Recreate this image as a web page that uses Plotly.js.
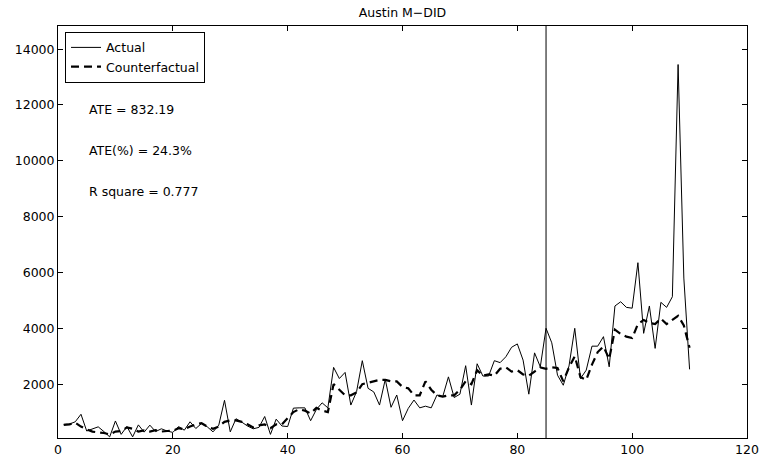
<!DOCTYPE html>
<html>
<head>
<meta charset="utf-8">
<script src="https://cdn.plot.ly/plotly-3.0.1.min.js"></script>
<style>html,body{margin:0;padding:0;background:#fff;}#chart{width:760px;height:457px;}</style>
</head>
<body>
<div id="chart"></div>
<script>
// Time index (periods 1..110)
const periods = Array.from({length: 110}, (_, i) => i + 1);

// Actual series
const actual = [
  555, 570, 650, 920, 320, 400, 470, 300, 110, 680,
  200, 480, 110, 540, 280, 530, 300, 400, 320, 270,
  480, 350, 650, 410, 590, 470, 290, 530, 1420, 290,
  760, 640, 500, 400, 450, 840, 200, 745, 500, 480,
  1140, 1150, 1150, 690, 1090, 1330, 1150, 2600, 2200, 2420,
  1250, 1730, 2840, 1850, 1720, 1250, 2170, 1170, 1610, 690,
  1130, 1430, 1150, 1210, 1150, 1610, 1550, 2260, 1520, 1640,
  2660, 1250, 2730, 2290, 2290, 2840, 2770, 2980, 3320, 3440,
  2860, 1640, 3120, 2620, 4000, 3480, 2320, 1960, 2650, 4000,
  2200, 2500, 3360, 3360, 3700, 2620, 4800, 4950, 4750, 4720,
  6350, 3820, 4800, 3280, 4930, 4750, 5130, 13450, 5800, 2530
];

// Counterfactual series
const counterfactual = [
  540, 560, 620, 480, 380, 300, 270, 250, 200, 300,
  320, 450, 400, 300, 340, 300, 350, 300, 320, 330,
  420, 380, 480, 560, 600, 480, 400, 480, 650, 700,
  700, 650, 560, 450, 520, 560, 420, 560, 560, 800,
  1000, 1100, 1050, 950, 1150, 1050, 1000, 2000, 1800, 1600,
  1600, 1700, 2000, 2050, 2100, 2150, 2150, 2100, 2100, 1900,
  1850, 1600, 1600, 2100, 1800, 1600, 1550, 1600, 1600, 1800,
  2100, 2000, 2500, 2300, 2350, 2300, 2550, 2600, 2450, 2500,
  2350, 2300, 2450, 2600, 2550, 2600, 2580, 2100, 2600, 3000,
  2250, 2150, 2700, 3150, 3350, 2900, 3950, 3800, 3700, 3650,
  4150, 4300, 4200, 4150, 4350, 4150, 4300, 4450, 4100, 3300
];

const treatmentPeriod = 85;
const xTicks = [0, 20, 40, 60, 80, 100, 120];
const yTicks = [2000, 4000, 6000, 8000, 10000, 12000, 14000];
const statsText = ["ATE = 832.19", "ATE(%) = 24.3%", "R square = 0.777"];
const titleText = "Austin M\u2212DID";

const FONT = "DejaVu Sans, Liberation Sans, Arial, sans-serif";

const traces = [
  {x: periods, y: actual, type: "scatter", mode: "lines", name: "Actual",
   line: {color: "#000", width: 1}},
  {x: periods, y: counterfactual, type: "scatter", mode: "lines", name: "Counterfactual",
   line: {color: "#000", width: 2.2, dash: "8px,5px"}}
];

const statsY = [0.7985, 0.699, 0.598];
const layout = {
  width: 760, height: 457,
  margin: {l: 58, r: 13, t: 26, b: 19, pad: 0},
  paper_bgcolor: "#fff", plot_bgcolor: "#fff",
  font: {family: FONT, size: 12, color: "#000"},
  title: {text: titleText, font: {family: FONT, size: 12.5, color: "#000"},
          x: 0.5, xref: "paper", xanchor: "center", y: 1 - 13/457, yref: "container", yanchor: "middle"},
  showlegend: true,
  legend: {x: 0.0102, y: 0.986, xanchor: "left", yanchor: "top",
           bgcolor: "#fff", bordercolor: "#000", borderwidth: 1,
           font: {family: FONT, size: 12.5, color: "#000"}, tracegroupgap: 0},
  xaxis: {range: [0, 120], tickvals: xTicks, ticktext: xTicks.map(String),
          showgrid: false, zeroline: false, showline: true, linecolor: "#000", linewidth: 1,
          mirror: "ticks", ticks: "inside", ticklen: 5, tickcolor: "#000",
          tickfont: {family: FONT, size: 12.5, color: "#000"}},
  yaxis: {range: [70, 14830], tickvals: yTicks, ticktext: yTicks.map(String),
          showgrid: false, zeroline: false, showline: true, linecolor: "#000", linewidth: 1,
          mirror: "ticks", ticks: "inside", ticklen: 5, tickcolor: "#000",
          tickfont: {family: FONT, size: 12.5, color: "#000"}},
  shapes: [{type: "line", xref: "x", yref: "paper", x0: treatmentPeriod, x1: treatmentPeriod,
            y0: 0, y1: 1, line: {color: "#000", width: 1}}],
  annotations: statsText.map((t, i) => ({
    text: t, xref: "paper", yref: "paper", x: 0.0417, y: statsY[i],
    xanchor: "left", yanchor: "middle", showarrow: false,
    font: {family: FONT, size: 12.5, color: "#000"}
  }))
};

Plotly.newPlot("chart", traces, layout, {displayModeBar: false, staticPlot: true});
</script>
</body>
</html>
